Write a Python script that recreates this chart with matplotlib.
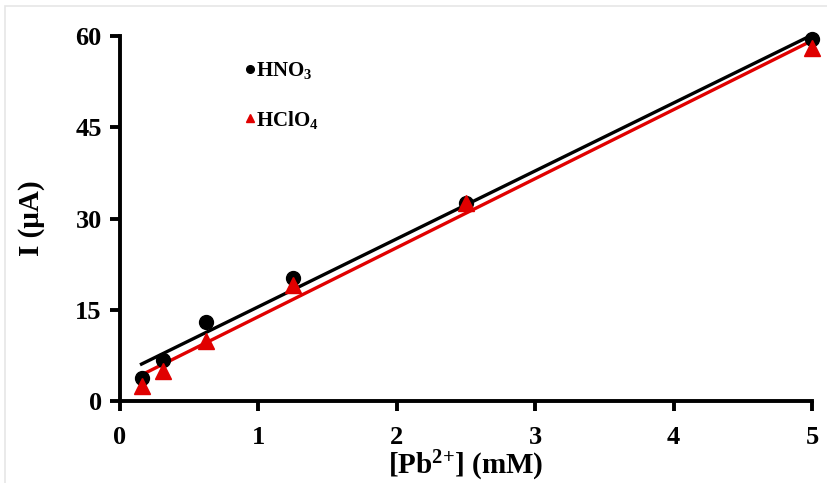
import numpy as np
import matplotlib
matplotlib.use("Agg")
import matplotlib.pyplot as plt
from matplotlib.patches import Rectangle

# ---------------- Data ----------------
conc = [0.156, 0.3125, 0.625, 1.25, 2.5, 5.0]
hno3 = [3.8, 6.8, 13.0, 20.3, 32.5, 59.5]
hclo4 = [2.5, 5.0, 9.8, 19.0, 32.5, 58.0]
y_ticks = [0, 15, 30, 45, 60]
x_ticks = [0, 1, 2, 3, 4, 5]

plt.rcParams['font.family'] = ['Liberation Serif', 'DejaVu Serif']
plt.rcParams['font.weight'] = 'bold'
plt.rcParams['mathtext.fontset'] = 'custom'
plt.rcParams['mathtext.rm'] = 'Liberation Serif:bold'
plt.rcParams['mathtext.it'] = 'Liberation Serif:bold'
plt.rcParams['mathtext.bf'] = 'Liberation Serif:bold'

fig = plt.figure(figsize=(8.27, 4.83), dpi=100)
ax = fig.add_axes([0.145, 0.170, 0.837, 0.755])

# faint frame around picture
fig.patches.append(Rectangle((0.006, -0.01), 1.2, 0.998, transform=fig.transFigure,
                             fill=False, edgecolor='#e6e6e6', linewidth=1.2))

# linear trend lines (least squares)
for ys, col in [(hno3, 'black'), (hclo4, '#e00000')]:
    m, b = np.polyfit(conc, ys, 1)
    xs = np.array([conc[0], conc[-1]])
    ax.plot(xs, m * xs + b, color=col, lw=2.4, zorder=2)

ax.plot(conc, hno3, 'o', color='black', ms=10, zorder=3, clip_on=False, label='HNO$_{3}$')
ax.plot(conc, hclo4, '^', color='#e00000', ms=11, zorder=4, clip_on=False, label='HClO$_{4}$')

ax.set_xlim(0, 5)
ax.set_ylim(0, 60)
ax.set_xticks(x_ticks)
ax.set_yticks(y_ticks)
for s in ['top', 'right']:
    ax.spines[s].set_visible(False)
for s in ['left', 'bottom']:
    ax.spines[s].set_linewidth(2.8)
ax.tick_params(direction='out', width=2.8, length=7, labelsize=19)
ax.tick_params(axis='x', pad=11)
ax.tick_params(axis='y', pad=6)
for lab in ax.get_xticklabels() + ax.get_yticklabels():
    lab.set_fontweight('bold')

ax.set_xlabel('[Pb$^{\\text{2+}}$] (mM)', fontsize=21, fontweight='bold', labelpad=0)
ax.set_ylabel('I (μA)', fontsize=21, fontweight='bold', labelpad=22)

leg = ax.legend(loc='upper left', bbox_to_anchor=(0.155, 0.985), frameon=False,
                handlelength=0.35, handletextpad=0.15, markerscale=0.55,
                labelspacing=1.3, prop={'size': 15, 'weight': 'bold'})

plt.savefig('out.png', dpi=100)
